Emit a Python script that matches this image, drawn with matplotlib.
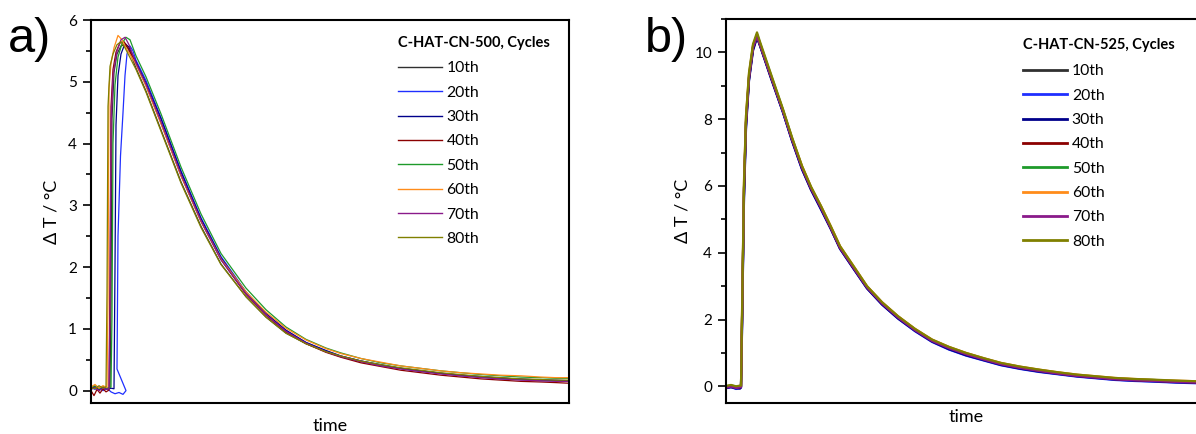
import matplotlib
matplotlib.use("Agg")
import matplotlib.pyplot as plt
from matplotlib.ticker import MultipleLocator

plt.rcParams['font.family'] = ['Lato', 'DejaVu Sans']

cycles = ["10th", "20th", "30th", "40th", "50th", "60th", "70th", "80th"]
colors = ["#303030", "#1f2fff", "#00008b", "#8b0000", "#1e9a2a", "#ff8c1a", "#8a1a8a", "#808000"]

# --- panel a: C-HAT-CN-500 (time in arbitrary units) ---
ta_decay = [45, 55, 70, 90, 110, 130, 155, 175, 195, 215, 235, 250, 270, 290,
            310, 325, 350, 370, 390, 410, 430, 450, 465, 478]

a_head_t = {
    "10th": [0, 4, 8, 12, 16, 19, 20, 21, 23, 26, 30, 34, 38],
    "20th": [0, 4, 8, 12, 16, 20, 24, 28, 32, 35, 26, 27, 29.5, 32, 34, 36, 39, 42],
    "30th": [0, 4, 8, 12, 16, 20, 23, 24, 25, 27, 30, 34, 38],
    "40th": [0, 3, 6, 9, 12, 15, 18, 19, 20, 22, 25, 29, 33, 37],
    "50th": [0, 4, 8, 12, 16, 20, 21, 22, 24, 27, 31, 35, 39],
    "60th": [0, 4, 8, 12, 16, 17, 18, 20, 23, 27, 31, 35],
    "70th": [0, 4, 8, 12, 16, 18, 19, 20, 22, 26, 30, 34, 38],
    "80th": [0, 4, 8, 12, 15, 16, 17, 19, 22, 26, 30, 34],
}
a_head_v = {
    "10th": [0.04, 0.07, 0.02, 0.06, 0.03, 0.05, 1.5, 4.4, 5.15, 5.45, 5.58, 5.60, 5.52],
    "20th": [0.05, 0.02, 0.06, 0.0, 0.04, -0.02, -0.05, -0.03, -0.06, 0.0, 0.35, 2.5, 3.8, 4.5, 5.1, 5.45, 5.58, 5.5],
    "30th": [0.03, 0.06, 0.01, 0.05, 0.02, 0.04, 0.03, 2.0, 4.3, 5.1, 5.45, 5.62, 5.56],
    "40th": [0.0, -0.08, 0.02, -0.04, 0.03, -0.02, 0.01, 1.8, 4.6, 5.2, 5.48, 5.63, 5.65, 5.55],
    "50th": [0.05, 0.08, 0.03, 0.07, 0.04, 0.06, 1.2, 4.0, 4.95, 5.4, 5.62, 5.72, 5.68],
    "60th": [0.06, 0.10, 0.04, 0.08, 0.05, 1.5, 4.9, 5.3, 5.55, 5.75, 5.68, 5.55],
    "70th": [0.02, 0.05, 0.0, 0.04, 0.02, 0.03, 1.4, 4.3, 5.1, 5.5, 5.68, 5.72, 5.6],
    "80th": [0.05, 0.03, 0.08, 0.04, 0.06, 1.6, 4.6, 5.25, 5.45, 5.6, 5.65, 5.55],
}
a_tail_v = {
    "10th": [5.22, 4.85, 4.22, 3.38, 2.66, 2.05, 1.52, 1.19, 0.93, 0.76, 0.63, 0.55, 0.47, 0.41, 0.36, 0.33, 0.28, 0.25, 0.22, 0.21, 0.18, 0.18, 0.16, 0.16],
    "20th": [5.35, 5.02, 4.42, 3.56, 2.80, 2.17, 1.60, 1.25, 0.97, 0.78, 0.64, 0.56, 0.48, 0.41, 0.36, 0.32, 0.28, 0.24, 0.22, 0.19, 0.18, 0.16, 0.16, 0.15],
    "30th": [5.32, 4.98, 4.40, 3.54, 2.78, 2.15, 1.59, 1.25, 0.98, 0.78, 0.65, 0.56, 0.48, 0.42, 0.36, 0.33, 0.28, 0.25, 0.23, 0.20, 0.19, 0.17, 0.17, 0.16],
    "40th": [5.30, 4.94, 4.33, 3.48, 2.74, 2.12, 1.56, 1.22, 0.95, 0.76, 0.62, 0.54, 0.45, 0.39, 0.33, 0.30, 0.25, 0.22, 0.19, 0.17, 0.15, 0.14, 0.13, 0.12],
    "50th": [5.42, 5.08, 4.48, 3.62, 2.86, 2.22, 1.66, 1.31, 1.03, 0.83, 0.69, 0.61, 0.52, 0.45, 0.40, 0.37, 0.32, 0.29, 0.26, 0.24, 0.22, 0.21, 0.20, 0.20],
    "60th": [5.28, 4.93, 4.32, 3.48, 2.74, 2.13, 1.60, 1.27, 1.01, 0.82, 0.68, 0.60, 0.52, 0.46, 0.40, 0.37, 0.32, 0.29, 0.27, 0.25, 0.24, 0.22, 0.21, 0.21],
    "70th": [5.30, 4.96, 4.35, 3.50, 2.75, 2.12, 1.57, 1.23, 0.96, 0.77, 0.63, 0.55, 0.47, 0.40, 0.35, 0.32, 0.27, 0.24, 0.21, 0.19, 0.17, 0.16, 0.15, 0.15],
    "80th": [5.20, 4.83, 4.20, 3.36, 2.64, 2.04, 1.52, 1.19, 0.93, 0.76, 0.63, 0.56, 0.48, 0.42, 0.37, 0.34, 0.29, 0.26, 0.23, 0.21, 0.19, 0.18, 0.17, 0.17],
}

# --- panel b: C-HAT-CN-525 ---
tb = [0, 5, 10, 14, 15, 16, 18, 20, 23, 27, 31, 34, 45, 57, 66, 76, 85, 95, 105, 114,
      128, 141, 156, 172, 189, 206, 223, 240, 258, 275, 294, 313, 332, 351, 370, 389,
      408, 427, 450, 472, 480]
b_vals = {
    "10th": [-0.04, 0.0, -0.05, -0.04, -0.02, 1.9, 5.9, 7.9, 9.2, 10.1, 10.45, 10.2, 9.25, 8.22, 7.38, 6.53, 5.92, 5.33, 4.72, 4.14, 3.52, 2.96, 2.47, 2.06, 1.68, 1.38, 1.14, 0.96, 0.80, 0.66, 0.55, 0.46, 0.39, 0.32, 0.27, 0.22, 0.19, 0.17, 0.14, 0.12, 0.12],
    "20th": [-0.06, -0.02, -0.08, -0.05, -0.04, 1.7, 5.7, 7.8, 9.2, 10.1, 10.48, 10.22, 9.25, 8.2, 7.36, 6.5, 5.9, 5.3, 4.7, 4.12, 3.5, 2.94, 2.45, 2.03, 1.65, 1.33, 1.10, 0.92, 0.77, 0.63, 0.52, 0.43, 0.36, 0.29, 0.24, 0.19, 0.16, 0.14, 0.11, 0.09, 0.10],
    "30th": [-0.05, -0.03, -0.06, -0.07, -0.03, 1.6, 5.6, 7.7, 9.15, 10.05, 10.45, 10.2, 9.22, 8.2, 7.35, 6.5, 5.88, 5.3, 4.7, 4.12, 3.5, 2.93, 2.45, 2.03, 1.66, 1.34, 1.11, 0.93, 0.78, 0.64, 0.53, 0.44, 0.37, 0.30, 0.25, 0.20, 0.17, 0.15, 0.12, 0.10, 0.10],
    "40th": [-0.03, 0.0, -0.04, -0.03, -0.01, 1.9, 5.9, 7.9, 9.25, 10.15, 10.5, 10.25, 9.28, 8.25, 7.4, 6.55, 5.93, 5.35, 4.73, 4.15, 3.53, 2.97, 2.49, 2.07, 1.69, 1.37, 1.15, 0.97, 0.81, 0.67, 0.56, 0.47, 0.39, 0.32, 0.27, 0.22, 0.19, 0.17, 0.14, 0.12, 0.12],
    "50th": [0.0, 0.03, -0.01, 0.0, 0.01, 2.0, 6.0, 8.0, 9.3, 10.2, 10.55, 10.28, 9.32, 8.28, 7.44, 6.58, 5.96, 5.38, 4.76, 4.18, 3.56, 2.99, 2.51, 2.09, 1.71, 1.39, 1.17, 0.99, 0.83, 0.69, 0.58, 0.49, 0.41, 0.34, 0.29, 0.24, 0.21, 0.19, 0.16, 0.14, 0.14],
    "60th": [-0.01, 0.02, -0.02, -0.01, 0.0, 2.2, 6.2, 8.1, 9.35, 10.2, 10.52, 10.26, 9.3, 8.26, 7.43, 6.6, 5.97, 5.4, 4.78, 4.2, 3.58, 3.0, 2.52, 2.1, 1.72, 1.40, 1.18, 1.0, 0.84, 0.70, 0.59, 0.50, 0.42, 0.35, 0.30, 0.25, 0.22, 0.19, 0.17, 0.15, 0.15],
    "70th": [-0.04, -0.01, -0.05, -0.03, -0.02, 1.9, 5.9, 7.9, 9.25, 10.15, 10.5, 10.24, 9.28, 8.25, 7.4, 6.55, 5.93, 5.35, 4.73, 4.15, 3.53, 2.96, 2.48, 2.06, 1.68, 1.36, 1.14, 0.96, 0.80, 0.66, 0.55, 0.46, 0.38, 0.31, 0.26, 0.21, 0.18, 0.16, 0.13, 0.11, 0.11],
    "80th": [0.01, 0.04, 0.0, 0.02, 0.02, 2.1, 6.1, 8.1, 9.4, 10.25, 10.6, 10.32, 9.35, 8.3, 7.46, 6.6, 5.98, 5.4, 4.78, 4.2, 3.58, 3.0, 2.52, 2.1, 1.72, 1.40, 1.18, 1.0, 0.84, 0.70, 0.59, 0.50, 0.42, 0.35, 0.30, 0.25, 0.22, 0.20, 0.17, 0.15, 0.15],
}

W, H = 1196, 434
fig = plt.figure(figsize=(W / 100, H / 100), dpi=100)
ax_a = fig.add_axes([91 / W, 1 - 403 / H, 478 / W, 383 / H])
ax_b = fig.add_axes([726 / W, 1 - 403 / H, 480 / W, 384 / H])


def style_axis(ax):
    for s in ax.spines.values():
        s.set_linewidth(1.5)
    ax.set_xticks([])
    ax.tick_params(axis='y', which='major', direction='out', length=6, width=1.2,
                   labelsize=11, pad=4)
    ax.tick_params(axis='y', which='minor', direction='out', length=3.5, width=1.2)
    ax.set_ylabel("\u0394 T / \u00b0C", fontsize=13)


def add_legend(ax, title, tx, ty, ly, lw):
    ax.text(tx, ty, title, transform=ax.transAxes, fontsize=10.5, weight='bold',
            ha='left', va='center')
    leg = ax.legend(loc='upper left', bbox_to_anchor=(tx, ly), frameon=False,
                    fontsize=11.3, handlelength=2.8, handletextpad=0.3,
                    labelspacing=0.66, borderpad=0, borderaxespad=0)
    for line in leg.get_lines():
        line.set_linewidth(lw)
    return leg


# panel a
for name, col in zip(cycles, colors):
    t = a_head_t[name] + ta_decay
    v = a_head_v[name] + a_tail_v[name]
    ax_a.plot(t, v, color=col, lw=0.9, label=name)
ax_a.set_xlim(0, 478)
ax_a.set_ylim(-0.2, 6.0)
ax_a.yaxis.set_major_locator(MultipleLocator(1))
ax_a.yaxis.set_minor_locator(MultipleLocator(0.5))
style_axis(ax_a)
ax_a.set_xlabel("time", fontsize=13, labelpad=11)
ax_a.yaxis.set_label_coords(-0.066, 0.5)
add_legend(ax_a, "C-HAT-CN-500, Cycles", 0.642, 0.940, 0.892, 1.0)

# panel b
for name, col in zip(cycles, colors):
    ax_b.plot(tb, b_vals[name], color=col, lw=1.6, label=name)
ax_b.set_xlim(0, 480)
ax_b.set_ylim(-0.5, 11.0)
ax_b.yaxis.set_major_locator(MultipleLocator(2))
ax_b.yaxis.set_minor_locator(MultipleLocator(1))
style_axis(ax_b)
ax_b.set_xlabel("time", fontsize=13, labelpad=4)
ax_b.yaxis.set_label_coords(-0.075, 0.5)
add_legend(ax_b, "C-HAT-CN-525, Cycles", 0.619, 0.932, 0.882, 2.0)

fig.text(8 / W, 1 - 52 / H, "a)", fontsize=35, family='Liberation Sans')
fig.text(645 / W, 1 - 52 / H, "b)", fontsize=35, family='Liberation Sans')

fig.savefig("out.png", dpi=100)
